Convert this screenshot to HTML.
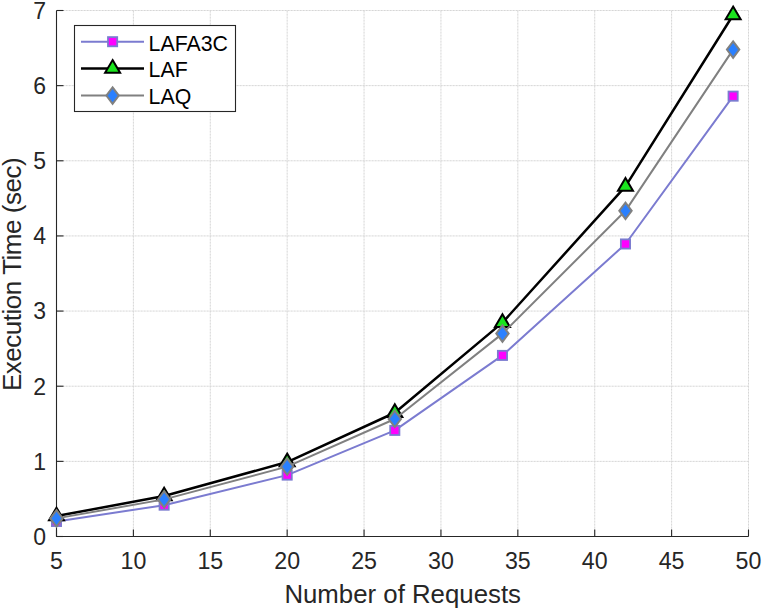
<!DOCTYPE html>
<html><head><meta charset="utf-8"><style>
html,body{margin:0;padding:0;background:#fff;}
svg{display:block;font-family:"Liberation Sans", sans-serif;}
</style></head><body>
<svg width="762" height="610" viewBox="0 0 762 610">
<rect width="762" height="610" fill="#fff"/>
<line x1="133.39" y1="10.5" x2="133.39" y2="536.5" stroke="#d6d6d6" stroke-width="1" stroke-dasharray="2.2,0.8"/>
<line x1="210.28" y1="10.5" x2="210.28" y2="536.5" stroke="#d6d6d6" stroke-width="1" stroke-dasharray="2.2,0.8"/>
<line x1="287.17" y1="10.5" x2="287.17" y2="536.5" stroke="#d6d6d6" stroke-width="1" stroke-dasharray="2.2,0.8"/>
<line x1="364.06" y1="10.5" x2="364.06" y2="536.5" stroke="#d6d6d6" stroke-width="1" stroke-dasharray="2.2,0.8"/>
<line x1="440.94" y1="10.5" x2="440.94" y2="536.5" stroke="#d6d6d6" stroke-width="1" stroke-dasharray="2.2,0.8"/>
<line x1="517.83" y1="10.5" x2="517.83" y2="536.5" stroke="#d6d6d6" stroke-width="1" stroke-dasharray="2.2,0.8"/>
<line x1="594.72" y1="10.5" x2="594.72" y2="536.5" stroke="#d6d6d6" stroke-width="1" stroke-dasharray="2.2,0.8"/>
<line x1="671.61" y1="10.5" x2="671.61" y2="536.5" stroke="#d6d6d6" stroke-width="1" stroke-dasharray="2.2,0.8"/>
<line x1="748.5" y1="10.5" x2="748.5" y2="536.5" stroke="#d6d6d6" stroke-width="1" stroke-dasharray="2.2,0.8"/>
<line x1="56.5" y1="461.36" x2="748.5" y2="461.36" stroke="#d6d6d6" stroke-width="1" stroke-dasharray="2.2,0.8"/>
<line x1="56.5" y1="386.21" x2="748.5" y2="386.21" stroke="#d6d6d6" stroke-width="1" stroke-dasharray="2.2,0.8"/>
<line x1="56.5" y1="311.07" x2="748.5" y2="311.07" stroke="#d6d6d6" stroke-width="1" stroke-dasharray="2.2,0.8"/>
<line x1="56.5" y1="235.93" x2="748.5" y2="235.93" stroke="#d6d6d6" stroke-width="1" stroke-dasharray="2.2,0.8"/>
<line x1="56.5" y1="160.79" x2="748.5" y2="160.79" stroke="#d6d6d6" stroke-width="1" stroke-dasharray="2.2,0.8"/>
<line x1="56.5" y1="85.64" x2="748.5" y2="85.64" stroke="#d6d6d6" stroke-width="1" stroke-dasharray="2.2,0.8"/>
<line x1="56.5" y1="10.5" x2="748.5" y2="10.5" stroke="#d6d6d6" stroke-width="1" stroke-dasharray="2.2,0.8"/>
<path d="M56.5,10.5 V536.5 H748.5" fill="none" stroke="#262626" stroke-width="1.1"/>
<line x1="56.5" y1="536.5" x2="56.5" y2="529.5" stroke="#262626" stroke-width="1.1"/>
<line x1="133.39" y1="536.5" x2="133.39" y2="529.5" stroke="#262626" stroke-width="1.1"/>
<line x1="210.28" y1="536.5" x2="210.28" y2="529.5" stroke="#262626" stroke-width="1.1"/>
<line x1="287.17" y1="536.5" x2="287.17" y2="529.5" stroke="#262626" stroke-width="1.1"/>
<line x1="364.06" y1="536.5" x2="364.06" y2="529.5" stroke="#262626" stroke-width="1.1"/>
<line x1="440.94" y1="536.5" x2="440.94" y2="529.5" stroke="#262626" stroke-width="1.1"/>
<line x1="517.83" y1="536.5" x2="517.83" y2="529.5" stroke="#262626" stroke-width="1.1"/>
<line x1="594.72" y1="536.5" x2="594.72" y2="529.5" stroke="#262626" stroke-width="1.1"/>
<line x1="671.61" y1="536.5" x2="671.61" y2="529.5" stroke="#262626" stroke-width="1.1"/>
<line x1="748.5" y1="536.5" x2="748.5" y2="529.5" stroke="#262626" stroke-width="1.1"/>
<line x1="56.5" y1="536.5" x2="63.5" y2="536.5" stroke="#262626" stroke-width="1.1"/>
<line x1="56.5" y1="461.36" x2="63.5" y2="461.36" stroke="#262626" stroke-width="1.1"/>
<line x1="56.5" y1="386.21" x2="63.5" y2="386.21" stroke="#262626" stroke-width="1.1"/>
<line x1="56.5" y1="311.07" x2="63.5" y2="311.07" stroke="#262626" stroke-width="1.1"/>
<line x1="56.5" y1="235.93" x2="63.5" y2="235.93" stroke="#262626" stroke-width="1.1"/>
<line x1="56.5" y1="160.79" x2="63.5" y2="160.79" stroke="#262626" stroke-width="1.1"/>
<line x1="56.5" y1="85.64" x2="63.5" y2="85.64" stroke="#262626" stroke-width="1.1"/>
<line x1="56.5" y1="10.5" x2="63.5" y2="10.5" stroke="#262626" stroke-width="1.1"/>
<text transform="translate(56.50,568.5)" text-anchor="middle" font-size="23.2" fill="#262626">5</text>
<text transform="translate(133.39,568.5)" text-anchor="middle" font-size="23.2" fill="#262626">10</text>
<text transform="translate(210.28,568.5)" text-anchor="middle" font-size="23.2" fill="#262626">15</text>
<text transform="translate(287.17,568.5)" text-anchor="middle" font-size="23.2" fill="#262626">20</text>
<text transform="translate(364.06,568.5)" text-anchor="middle" font-size="23.2" fill="#262626">25</text>
<text transform="translate(440.94,568.5)" text-anchor="middle" font-size="23.2" fill="#262626">30</text>
<text transform="translate(517.83,568.5)" text-anchor="middle" font-size="23.2" fill="#262626">35</text>
<text transform="translate(594.72,568.5)" text-anchor="middle" font-size="23.2" fill="#262626">40</text>
<text transform="translate(671.61,568.5)" text-anchor="middle" font-size="23.2" fill="#262626">45</text>
<text transform="translate(748.50,568.5)" text-anchor="middle" font-size="23.2" fill="#262626">50</text>
<text transform="translate(46,544.80)" text-anchor="end" font-size="23" fill="#262626">0</text>
<text transform="translate(46,469.66)" text-anchor="end" font-size="23" fill="#262626">1</text>
<text transform="translate(46,394.51)" text-anchor="end" font-size="23" fill="#262626">2</text>
<text transform="translate(46,319.37)" text-anchor="end" font-size="23" fill="#262626">3</text>
<text transform="translate(46,244.23)" text-anchor="end" font-size="23" fill="#262626">4</text>
<text transform="translate(46,169.09)" text-anchor="end" font-size="23" fill="#262626">5</text>
<text transform="translate(46,93.94)" text-anchor="end" font-size="23" fill="#262626">6</text>
<text transform="translate(46,18.80)" text-anchor="end" font-size="23" fill="#262626">7</text>
<text x="402.7" y="602.5" text-anchor="middle" font-size="25.8" fill="#262626">Number of Requests</text>
<text transform="translate(21,274.2) rotate(-90)" text-anchor="middle" font-size="26" textLength="233.7" lengthAdjust="spacing" fill="#262626">Execution Time (sec)</text>
<polyline points="56.50,521.47 164.14,505.17 287.17,475.11 394.81,430.40 502.46,355.41 625.48,243.97 733.12,96.16" fill="none" stroke="#7B7BD0" stroke-width="2" stroke-linejoin="round"/>
<rect x="51.90" y="516.87" width="9.2" height="9.2" fill="#FF00FF" stroke="#7B7BD0" stroke-width="1.8"/>
<rect x="159.54" y="500.57" width="9.2" height="9.2" fill="#FF00FF" stroke="#7B7BD0" stroke-width="1.8"/>
<rect x="282.57" y="470.51" width="9.2" height="9.2" fill="#FF00FF" stroke="#7B7BD0" stroke-width="1.8"/>
<rect x="390.21" y="425.80" width="9.2" height="9.2" fill="#FF00FF" stroke="#7B7BD0" stroke-width="1.8"/>
<rect x="497.86" y="350.81" width="9.2" height="9.2" fill="#FF00FF" stroke="#7B7BD0" stroke-width="1.8"/>
<rect x="620.88" y="239.37" width="9.2" height="9.2" fill="#FF00FF" stroke="#7B7BD0" stroke-width="1.8"/>
<rect x="728.52" y="91.56" width="9.2" height="9.2" fill="#FF00FF" stroke="#7B7BD0" stroke-width="1.8"/>
<polyline points="56.50,516.06 164.14,496.07 287.17,462.03 394.81,412.74 502.46,322.64 625.48,186.41 733.12,15.01" fill="none" stroke="#000000" stroke-width="2.5" stroke-linejoin="round"/>
<path d="M56.50,507.66 L64.00,520.36 L49.00,520.36 Z" fill="#1AE41E" stroke="#000000" stroke-width="2" stroke-linejoin="miter"/>
<path d="M164.14,487.67 L171.64,500.37 L156.64,500.37 Z" fill="#1AE41E" stroke="#000000" stroke-width="2" stroke-linejoin="miter"/>
<path d="M287.17,453.63 L294.67,466.33 L279.67,466.33 Z" fill="#1AE41E" stroke="#000000" stroke-width="2" stroke-linejoin="miter"/>
<path d="M394.81,404.34 L402.31,417.04 L387.31,417.04 Z" fill="#1AE41E" stroke="#000000" stroke-width="2" stroke-linejoin="miter"/>
<path d="M502.46,314.24 L509.96,326.94 L494.96,326.94 Z" fill="#1AE41E" stroke="#000000" stroke-width="2" stroke-linejoin="miter"/>
<path d="M625.48,178.01 L632.98,190.71 L617.98,190.71 Z" fill="#1AE41E" stroke="#000000" stroke-width="2" stroke-linejoin="miter"/>
<path d="M733.12,6.61 L740.62,19.31 L725.62,19.31 Z" fill="#1AE41E" stroke="#000000" stroke-width="2" stroke-linejoin="miter"/>
<polyline points="56.50,518.39 164.14,499.38 287.17,466.62 394.81,418.98 502.46,333.61 625.48,210.83 733.12,49.57" fill="none" stroke="#808080" stroke-width="2" stroke-linejoin="round"/>
<path d="M56.50,510.19 L62.70,518.39 L56.50,526.59 L50.30,518.39 Z" fill="#2A80FF" stroke="#808080" stroke-width="2" stroke-linejoin="miter"/>
<path d="M164.14,491.18 L170.34,499.38 L164.14,507.58 L157.94,499.38 Z" fill="#2A80FF" stroke="#808080" stroke-width="2" stroke-linejoin="miter"/>
<path d="M287.17,458.42 L293.37,466.62 L287.17,474.82 L280.97,466.62 Z" fill="#2A80FF" stroke="#808080" stroke-width="2" stroke-linejoin="miter"/>
<path d="M394.81,410.78 L401.01,418.98 L394.81,427.18 L388.61,418.98 Z" fill="#2A80FF" stroke="#808080" stroke-width="2" stroke-linejoin="miter"/>
<path d="M502.46,325.41 L508.66,333.61 L502.46,341.81 L496.26,333.61 Z" fill="#2A80FF" stroke="#808080" stroke-width="2" stroke-linejoin="miter"/>
<path d="M625.48,202.63 L631.68,210.83 L625.48,219.03 L619.28,210.83 Z" fill="#2A80FF" stroke="#808080" stroke-width="2" stroke-linejoin="miter"/>
<path d="M733.12,41.37 L739.32,49.57 L733.12,57.77 L726.92,49.57 Z" fill="#2A80FF" stroke="#808080" stroke-width="2" stroke-linejoin="miter"/>
<rect x="74.5" y="25.5" width="161.0" height="86.0" fill="#fff" stroke="#262626" stroke-width="1.1"/>
<line x1="81" y1="41.7" x2="144" y2="41.7" stroke="#7B7BD0" stroke-width="2"/>
<rect x="108.00" y="37.10" width="9.2" height="9.2" fill="#FF00FF" stroke="#7B7BD0" stroke-width="1.8"/>
<text x="148.6" y="50.5" font-size="21.3" fill="#000">LAFA3C</text>
<line x1="81" y1="68.5" x2="144" y2="68.5" stroke="#000000" stroke-width="2.5"/>
<path d="M112.60,60.10 L120.10,72.80 L105.10,72.80 Z" fill="#1AE41E" stroke="#000000" stroke-width="2" stroke-linejoin="miter"/>
<text x="148.6" y="77.3" font-size="21.3" fill="#000">LAF</text>
<line x1="81" y1="95.6" x2="144" y2="95.6" stroke="#808080" stroke-width="2"/>
<path d="M112.60,87.40 L118.80,95.60 L112.60,103.80 L106.40,95.60 Z" fill="#2A80FF" stroke="#808080" stroke-width="2" stroke-linejoin="miter"/>
<text x="148.6" y="104.39999999999999" font-size="21.3" fill="#000">LAQ</text>
</svg></body></html>
